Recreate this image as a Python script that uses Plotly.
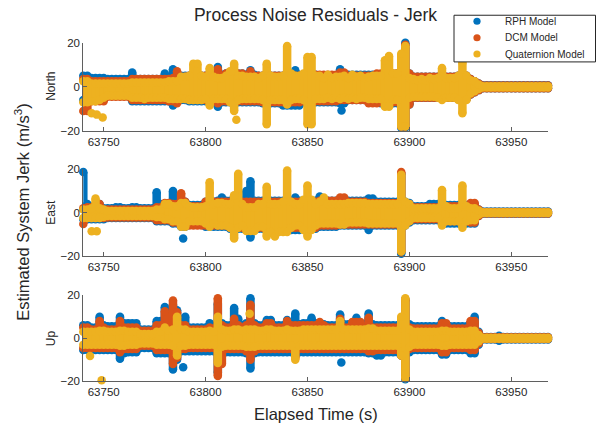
import plotly.graph_objects as go

# Residual envelopes sampled every 2 s from t = 63740 s to 63968 s (115 samples).
# For each axis and model: HI / LO are the extreme residual values in each sample.
T_START, T_STEP, N_SAMPLES = 63740, 2, 115
SAMPLE_T = [T_START + T_STEP * i for i in range(N_SAMPLES)]

# ---------------- North ----------------
NORTH_RPH_HI = [5, 5, 4, 4, 4, 4, 3.5, 3.5, 3.5, 3.5,
                3.5, 3.5, 6.5, 3.5, 3.5, 3.5, 3.5, 3.5, 3.5, 3.5,
                6, 4, 8, 5, 5, 5, 5, 5, 5, 5,
                5, 5, 5, 9, 5.5, 6, 6, 6, 6, 6,
                5.5, 7.5, 5.5, 5, 5, 5, 5, 5, 5, 5,
                5, 5, 7.5, 5, 5.5, 5.5, 5.5, 5.5, 5, 5,
                5, 5, 5, 8, 5.5, 5.5, 5.5, 5.5, 5.5, 5.5,
                5.5, 5.5, 5.5, 5.5, 5.5, 5.5, 5.5, 6, 6, 20,
                6, 4.5, 4.5, 4.5, 4.5, 4.5, 4.5, 4.5, 4.5, 4.5,
                4.5, 4.5, 5, 5, 5, 3.5, 2.5, 1.5, 0.7, 0.7,
                0.7, 0.7, 0.7, 0.7, 0.7, 0.7, 0.7, 0.7, 0.7, 0.7,
                0.7, 0.7, 0.7, 0.7, 0.7]
NORTH_RPH_LO = [-6, -6, -5.5, -5.5, -5.5, -5.5, -4, -4, -4, -4,
                -4, -4, -6.5, -6.5, -6.5, -6.5, -6.5, -6.5, -6.5, -6.5,
                -6.5, -6.5, -8.5, -6.5, -6, -6, -6.5, -6.5, -6.5, -6.5,
                -6.5, -6.5, -6.5, -9, -7, -7, -7, -7, -7, -7,
                -7, -7, -7, -7, -7.5, -7.5, -7.5, -7.5, -7.5, -8.5,
                -8.5, -8.5, -8.5, -8.5, -7, -7, -7, -7, -7, -7,
                -7, -7, -7, -7.5, -7.5, -6, -6, -6, -6, -6,
                -6.5, -6.5, -6.5, -7.5, -7.5, -7.5, -7.5, -7.5, -18.5, -18.5,
                -8, -5, -5, -5, -5, -5, -5, -5, -5, -5,
                -5, -5, -5.5, -5.5, -5.5, -3.5, -2.5, -1.5, -0.7, -0.7,
                -0.7, -0.7, -0.7, -0.7, -0.7, -0.7, -0.7, -0.7, -0.7, -0.7,
                -0.7, -0.7, -0.7, -0.7, -0.7]
NORTH_DCM_HI = [3.5, 3.5, 2.5, 2.5, 2.5, 2.5, 2.5, 2.5, 2.5, 2.5,
                2.5, 2.5, 3.5, 3.5, 3.5, 3.5, 3.5, 3.5, 3.5, 3.5,
                3.5, 3.5, 4, 7, 4.5, 4.5, 5, 5, 5, 5,
                5, 5, 5, 8, 5, 6, 6, 6, 6, 6,
                5, 7, 5, 5, 5, 5, 5, 5, 5, 5,
                5, 5, 5, 5, 5.5, 5.5, 5.5, 5.5, 5.5, 5.5,
                5.5, 5.5, 5.5, 6.5, 6.5, 5, 5, 5, 5, 5,
                5, 5, 6, 6, 6, 6, 6, 6, 6, 19,
                6, 4.5, 4.5, 4.5, 4.5, 4.5, 4.5, 4.5, 4.5, 4.5,
                4.5, 4.5, 5, 5, 5, 3.5, 2.5, 1.5, 0.6, 0.6,
                0.6, 0.6, 0.6, 0.6, 0.6, 0.6, 0.6, 0.6, 0.6, 0.6,
                0.6, 0.6, 0.6, 0.6, 0.6]
NORTH_DCM_LO = [-11, -11, -6.5, -6.5, -6.5, -6.5, -4.5, -4.5, -4.5, -4.5,
                -4.5, -4.5, -6, -6, -6, -6, -6, -6, -6, -6,
                -6, -6.5, -6.5, -7.5, -5.5, -5.5, -6, -6, -6, -6,
                -6, -6, -6, -7.5, -6.5, -6.5, -6.5, -6.5, -6.5, -6.5,
                -6.5, -6.5, -6.5, -6.5, -7, -7, -7, -7, -7, -7,
                -7, -7, -7, -7, -6.5, -6.5, -6.5, -6.5, -6.5, -6.5,
                -6.5, -6.5, -6.5, -6, -6, -6, -6, -6, -6, -6,
                -7.5, -7.5, -7.5, -7, -7, -7, -7, -7, -18, -18,
                -8, -5, -5, -5, -5, -5, -5, -5, -5, -5,
                -5, -5, -5.5, -5.5, -5.5, -3.5, -2.5, -1.5, -0.6, -0.6,
                -0.6, -0.6, -0.6, -0.6, -0.6, -0.6, -0.6, -0.6, -0.6, -0.6,
                -0.6, -0.6, -0.6, -0.6, -0.6]
NORTH_QUAT_HI = [2.5, 2.5, 1.5, 1.5, 1.5, 1.5, 1.5, 1.5, 1.5, 1.5,
                 1.5, 1.5, 2, 2, 2, 2, 2, 2, 2, 2,
                 2, 2.5, 2.5, 2.5, 4.5, 4.5, 5, 10.5, 10.5, 5,
                 4.5, 8.5, 4.5, 4, 4, 5, 7, 10.5, 5, 5,
                 4.5, 4.5, 4.5, 4, 5, 10.5, 5, 4.5, 4.5, 5,
                 18.5, 6, 5, 5, 6, 13.5, 13.5, 5, 5, 4,
                 5.5, 4, 4.5, 4.5, 5, 4, 5.5, 4.5, 5, 4,
                 4.5, 5, 5, 5, 12, 14, 6, 6, 15, 18.5,
                 4, 3.5, 3, 3.5, 3, 4, 3.5, 4, 8.5, 4,
                 4, 4, 5, 11, 5, 3, 2.5, 1, 0.3, 0.3,
                 0.3, 0.3, 0.3, 0.3, 0.3, 0.3, 0.3, 0.3, 0.3, 0.3,
                 0.3, 0.3, 0.3, 0.3, 0.3]
NORTH_QUAT_LO = [-7, -7, -6.5, -6.5, -6, -5, -4, -4, -4, -4,
                 -4, -4, -5, -5, -5, -5.5, -5, -5, -5, -5,
                 -5, -5.5, -5.5, -5.5, -5.5, -5.5, -6, -6, -6, -6,
                 -5.5, -8.5, -5.5, -5.5, -5.5, -5.5, -7, -11, -6, -5.5,
                 -5.5, -5.5, -5.5, -5.5, -6, -17, -6, -6, -6, -6,
                 -8, -6, -5.5, -5.5, -6, -17, -17, -5.5, -5.5, -5.5,
                 -5, -5.5, -5, -5.5, -5, -5.5, -5, -5.5, -5, -5,
                 -5.5, -5.5, -5.5, -5.5, -9, -9, -6, -6, -18, -18,
                 -5, -4.5, -4.5, -4.5, -4.5, -4.5, -4.5, -5, -6, -5,
                 -5, -5, -6, -12, -6, -3, -2, -1, -0.3, -0.3,
                 -0.3, -0.3, -0.3, -0.3, -0.3, -0.3, -0.3, -0.3, -0.3, -0.3,
                 -0.3, -0.3, -0.3, -0.3, -0.3]
# isolated samples away from the envelope (time, value)
NORTH_RPH_OUT_T, NORTH_RPH_OUT_V = [63866.7], [-10.7]
NORTH_DCM_OUT_T, NORTH_DCM_OUT_V = [], []
NORTH_QUAT_OUT_T = [63744.1, 63746.6, 63749.5, 63815.1]
NORTH_QUAT_OUT_V = [-12, -12.6, -13.9, -14.9]

# ---------------- East ----------------
EAST_RPH_HI = [18.8, 4, 2.5, 4, 4, 2, 2, 2, 2.5, 2.5,
               2, 2, 2.5, 2.5, 2, 2, 2, 2, 9.4, 4,
               4, 4, 10, 4.5, 5, 5, 3.5, 3.5, 3.5, 3.5,
               5, 5, 5, 5.5, 7, 5.5, 5.5, 5.5, 5.5, 5.5,
               10, 14.5, 5.5, 5.5, 5.5, 5.5, 5.5, 5.5, 5.5, 5.5,
               5.5, 5.5, 7, 5.5, 5.5, 5.5, 5.5, 5.5, 7.5, 5.5,
               5.5, 5.5, 5.5, 6, 6, 5.5, 5.5, 5.5, 5.5, 5.5,
               6.5, 6.5, 5, 5, 5, 5, 5, 5, 18, 5,
               4.5, 3, 3, 3, 3, 4, 4, 4, 3.5, 3.5,
               3.5, 3.5, 3.5, 3.5, 3.5, 4, 4, 1.5, 0.5, 0.5,
               0.5, 0.5, 0.5, 0.5, 0.5, 0.5, 0.5, 0.5, 0.5, 0.5,
               0.5, 0.5, 0.5, 0.5, 0.5]
EAST_RPH_LO = [-3, -3, -3, -3, -3, -3, -2.5, -2.5, -2.5, -2.5,
               -2.5, -2.5, -2.5, -2.5, -2.5, -2.5, -2.5, -2.5, -4, -4,
               -4, -4, -5, -5, -6.5, -6.5, -5.5, -5.5, -5.5, -5.5,
               -6.5, -6.5, -6.5, -6.5, -6.5, -6.5, -7.5, -7.5, -7.5, -7.5,
               -7.5, -11.5, -7.5, -7.5, -7.5, -7.5, -7.5, -7.5, -7.5, -7.5,
               -8, -8, -8, -8, -7.5, -7.5, -7.5, -7.5, -6.5, -6.5,
               -6.5, -6.5, -6.5, -6, -6, -6, -6, -6, -6, -6,
               -8, -6, -6, -6, -6, -6, -6, -6, -19, -6,
               -4.5, -3.5, -3.5, -3.5, -3.5, -3.5, -3.5, -3.5, -5, -5,
               -5, -5, -5, -5, -5, -5, -5, -1.5, -0.5, -0.5,
               -0.5, -0.5, -0.5, -0.5, -0.5, -0.5, -0.5, -0.5, -0.5, -0.5,
               -0.5, -0.5, -0.5, -0.5, -0.5]
EAST_DCM_HI = [2, 2.5, 2.5, 4, 4, 1.5, 1.5, 1.5, 1.5, 1.5,
               1.5, 1.5, 1.5, 1.5, 1.5, 1.5, 1.5, 1.5, 2.5, 2.5,
               4.5, 4.5, 4, 4, 9, 5, 3, 3, 3, 3,
               5, 5, 5, 5, 5, 5, 5, 5, 5, 5,
               5, 5, 5, 5, 5, 5, 5, 5, 5, 5,
               5, 5, 5, 5, 5, 5, 5, 5, 5.5, 5.5,
               5.5, 5.5, 5.5, 7, 7, 5, 5, 5, 5, 5,
               4.5, 4.5, 4.5, 4.5, 4.5, 4.5, 4.5, 4.5, 18.8, 4.5,
               4, 2.5, 2.5, 2.5, 2.5, 2.5, 2.5, 2.5, 3, 3,
               3, 3, 3, 3, 3, 4.5, 4.5, 1.5, 0.35, 0.35,
               0.35, 0.35, 0.35, 0.35, 0.35, 0.35, 0.35, 0.35, 0.35, 0.35,
               0.35, 0.35, 0.35, 0.35, 0.35]
EAST_DCM_LO = [-5.3, -2.5, -2.5, -2.5, -2.5, -2.5, -2.2, -2.2, -2.2, -2.2,
               -2.2, -2.2, -2.2, -2.2, -2.2, -2.2, -2.2, -2.2, -3.5, -3.5,
               -3.5, -3.5, -4.5, -4.5, -6, -6, -6, -6, -6, -6,
               -6, -6, -6, -6, -6, -6, -7, -7, -7, -7,
               -7, -7, -7, -7, -7, -7, -7, -7, -7, -7,
               -7, -7, -7, -7, -7, -7, -7, -7, -6, -6,
               -6, -6, -6, -5.5, -5.5, -5.5, -5.5, -5.5, -5.5, -5.5,
               -5.5, -5.5, -5.5, -5.5, -5.5, -5.5, -5.5, -5.5, -18, -5.5,
               -4, -3, -3, -3, -3, -3, -3, -3, -4, -4,
               -4, -4, -4, -4, -4, -4.5, -4.5, -1.5, -0.35, -0.35,
               -0.35, -0.35, -0.35, -0.35, -0.35, -0.35, -0.35, -0.35, -0.35, -0.35,
               -0.35, -0.35, -0.35, -0.35, -0.35]
EAST_QUAT_HI = [1.5, 1.5, 2, 6.5, 2, 1.5, 0.8, 0.8, 0.8, 0.8,
                0.8, 0.8, 0.8, 0.8, 0.8, 0.8, 0.8, 0.8, 1.5, 1.5,
                4, 4, 3, 3, 4.5, 4.5, 3, 2.5, 2.5, 2.5,
                3, 14, 4, 4.5, 4.5, 4, 4, 8, 18, 4,
                2.5, 2.5, 2.5, 4, 4, 12, 4, 4, 4, 5,
                19.5, 5, 4, 4, 6, 12.5, 6, 4, 5, 7,
                4, 4, 4, 4, 4, 4.5, 4.5, 4.5, 4.5, 4.5,
                4, 4, 4, 4, 4, 4, 4, 4, 17.5, 5,
                4, 2, 2, 2, 2, 2, 2, 2, 10.5, 3,
                2, 2, 2, 12.5, 3, 2, 2, 1, 0.2, 0.2,
                0.2, 0.2, 0.2, 0.2, 0.2, 0.2, 0.2, 0.2, 0.2, 0.2,
                0.2, 0.2, 0.2, 0.2, 0.2]
EAST_QUAT_LO = [-2.5, -2.5, -2.5, -2.5, -2.5, -2, -1.5, -1.5, -1.5, -1.5,
                -1.5, -1.5, -1.5, -1.5, -1.5, -1.5, -1.5, -1.5, -2, -2,
                -3, -3, -4, -4, -6.5, -6.5, -4, -4, -4, -4,
                -5, -6.5, -5, -6, -6, -6, -7, -12, -7, -6,
                -8.5, -8.5, -8.5, -6.5, -6.5, -11, -9, -11, -9, -9,
                -9, -7, -6, -6, -8, -11, -8, -6, -5, -5,
                -5, -5, -5, -5.5, -5.5, -4.5, -4.5, -4.5, -4.5, -4.5,
                -5, -5, -5, -5, -5, -5, -5, -5, -18, -6,
                -4, -2.5, -2.5, -2.5, -2.5, -2.5, -2.5, -2.5, -6, -4,
                -4, -4, -4, -7, -4, -3.5, -3.5, -1, -0.2, -0.2,
                -0.2, -0.2, -0.2, -0.2, -0.2, -0.2, -0.2, -0.2, -0.2, -0.2,
                -0.2, -0.2, -0.2, -0.2, -0.2]
EAST_RPH_OUT_T, EAST_RPH_OUT_V = [63789.0], [-11.9]
EAST_DCM_OUT_T, EAST_DCM_OUT_V = [], []
EAST_QUAT_OUT_T, EAST_QUAT_OUT_V = [63744.1, 63746.6], [-8.6, -8.6]

# ---------------- Up ----------------
UP_RPH_HI = [6, 6, 5, 5, 10, 6, 5.5, 5.5, 5.5, 10,
             7, 7, 7, 7, 4, 4, 4, 4, 8, 8,
             14.5, 7, 15.5, 13, 6.5, 10, 5, 5, 5, 5,
             5, 7, 5.5, 16, 7, 6, 6, 14, 9, 6,
             7, 18.5, 7, 6, 6, 8.5, 8.5, 6, 6, 6,
             8.5, 6.5, 11.5, 6.5, 7, 7, 9.5, 7, 7, 6.5,
             6, 6, 6, 11, 6.5, 6.5, 6.5, 9.5, 6.5, 6.5,
             11.5, 6.5, 6, 6, 6, 6, 6, 6, 8, 18,
             6.5, 5.5, 5.5, 5.5, 5.5, 5.5, 5.5, 5.5, 8, 6,
             5.5, 5.5, 5.5, 5.5, 5.5, 7, 10, 3, 0.6, 0.6,
             0.6, 0.6, 1.2, 0.6, 0.6, 0.6, 0.6, 0.6, 0.6, 0.6,
             0.6, 0.6, 0.6, 0.6, 0.6]
UP_RPH_LO = [-5.5, -5.5, -5.5, -5.5, -5.5, -5.5, -5.5, -5.5, -5.5, -9.5,
             -7, -6.5, -6.5, -6.5, -4.5, -4.5, -4.5, -4.5, -7, -7,
             -7, -7, -14.5, -10, -6, -6, -6, -6, -6, -6,
             -6, -6, -6, -16, -7, -6.5, -6.5, -6.5, -6.5, -6.5,
             -7, -14, -7, -6.5, -6.5, -6.5, -6.5, -6.5, -6.5, -6.5,
             -6.5, -6.5, -8, -6.5, -6.5, -6.5, -6.5, -6.5, -6.5, -6.5,
             -6.5, -6.5, -6.5, -6.5, -6.5, -6.5, -6.5, -6.5, -6.5, -6.5,
             -7, -7, -8, -8, -6.5, -6.5, -6.5, -6.5, -8, -19,
             -6.5, -5.5, -5.5, -5.5, -5.5, -5.5, -5.5, -5.5, -7.5, -7.5,
             -5.5, -5.5, -5.5, -5.5, -5.5, -7, -7, -3, -0.6, -0.6,
             -0.6, -0.6, -1.2, -0.6, -0.6, -0.6, -0.6, -0.6, -0.6, -0.6,
             -0.6, -0.6, -0.6, -0.6, -0.6]
UP_DCM_HI = [5, 5, 4, 4, 8, 5, 4, 4, 4, 8,
             5, 5, 5, 5, 3.5, 3.5, 3.5, 3.5, 6, 6,
             12.5, 5, 17.5, 12, 6, 6, 4, 4, 4, 4,
             4, 5, 4.5, 18.5, 6, 5, 5, 9, 6, 5,
             6, 15.5, 6, 5, 5, 7, 7, 5, 5, 5,
             8, 6, 6, 6, 6, 6, 6, 6, 7.5, 6,
             5, 5, 5, 9, 5, 5, 7.5, 7.5, 7.5, 5,
             9.5, 5, 5, 5, 5, 5, 5, 5, 8, 18,
             5, 4.5, 4.5, 4.5, 4.5, 4.5, 4.5, 4.5, 7, 7,
             4.5, 4.5, 4.5, 4.5, 4.5, 8, 8, 2.5, 0.4, 0.4,
             0.4, 0.4, 0.4, 0.4, 0.4, 0.4, 0.4, 0.4, 0.4, 0.4,
             0.4, 0.4, 0.4, 0.4, 0.4]
UP_DCM_LO = [-4.5, -4.5, -4.5, -4.5, -4.5, -4.5, -4.5, -4.5, -4.5, -6.5,
             -5, -5, -5, -5, -3.5, -3.5, -3.5, -3.5, -5.5, -5.5,
             -5.5, -5.5, -12, -9, -5, -5, -4.5, -4.5, -4.5, -4.5,
             -4.5, -4.5, -4.5, -17.5, -12, -5, -5, -5, -5, -5,
             -6, -10, -6, -5, -5, -5, -5, -5, -5, -5,
             -5, -5, -9, -5, -5, -5, -5, -5, -5, -5,
             -5, -5, -5, -5, -5, -5, -5, -5, -5, -5,
             -6, -6, -5.5, -5.5, -5.5, -5.5, -5.5, -5.5, -8, -18.5,
             -5, -4.5, -4.5, -4.5, -4.5, -4.5, -4.5, -4.5, -6.5, -6.5,
             -4.5, -4.5, -4.5, -4.5, -4.5, -5.5, -5.5, -2.5, -0.4, -0.4,
             -0.4, -0.4, -0.4, -0.4, -0.4, -0.4, -0.4, -0.4, -0.4, -0.4,
             -0.4, -0.4, -0.4, -0.4, -0.4]
UP_QUAT_HI = [3, 3, 3, 3, 3.5, 3.5, 3, 3, 3, 3.5,
              3.5, 3, 3, 3, 2, 2, 2, 2, 3, 3,
              5, 3.5, 4, 10, 4, 4, 3, 3, 3, 3,
              3, 3.5, 3, 10, 4, 3.5, 3.5, 4, 4, 3.5,
              4, 4, 4, 3.5, 3.5, 4, 4, 3.5, 3.5, 3.5,
              4, 3.5, 3.5, 3.5, 4, 4, 4, 4, 4, 4,
              4, 4, 4, 8, 4, 4, 4, 4, 4, 4,
              4.5, 4.5, 3.5, 3.5, 3.5, 3.5, 3.5, 3.5, 10, 18.5,
              4, 3, 3, 3, 3, 3, 3, 3, 3.5, 3.5,
              3, 3, 3, 3, 3, 3.5, 3.5, 1.5, 0.2, 0.2,
              0.2, 0.2, 0.2, 0.2, 0.2, 0.2, 0.2, 0.2, 0.2, 0.2,
              0.2, 0.2, 0.2, 0.2, 0.2]
UP_QUAT_LO = [-3, -3, -3, -3, -3, -3, -3, -3, -3, -3.5,
              -3.5, -3, -3, -3, -2.5, -2.5, -2.5, -2.5, -3, -3,
              -3, -3, -3.5, -8, -3.5, -3.5, -3, -3, -3, -3,
              -3, -3, -3, -11.5, -4, -3.5, -3.5, -3.5, -3.5, -3.5,
              -4, -4, -4, -3.5, -3.5, -3.5, -3.5, -3.5, -3.5, -3.5,
              -3.5, -3.5, -10, -3.5, -3.5, -3.5, -3.5, -3.5, -3.5, -3.5,
              -3.5, -3.5, -3.5, -3.5, -3.5, -3.5, -3.5, -3.5, -3.5, -3.5,
              -3.5, -3.5, -3.5, -3.5, -3.5, -3.5, -3.5, -3.5, -8, -18.5,
              -4, -3, -3, -3, -3, -3, -3, -3, -3.5, -3.5,
              -3, -3, -3, -3, -3, -3, -3, -1.5, -0.2, -0.2,
              -0.2, -0.2, -0.2, -0.2, -0.2, -0.2, -0.2, -0.2, -0.2, -0.2,
              -0.2, -0.2, -0.2, -0.2, -0.2]
UP_RPH_OUT_T, UP_RPH_OUT_V = [63789.0, 63866.6], [-13.5, -11.3]
UP_DCM_OUT_T, UP_DCM_OUT_V = [], []
UP_QUAT_OUT_T, UP_QUAT_OUT_V = [63743.3, 63749.0, 63821.6], [-8.3, -19.5, 11.3]

# ---------------- styling ----------------
MODELS = ["RPH Model", "DCM Model", "Quaternion Model"]
COLORS = ["#0072BD", "#D95319", "#EDB120"]
PANELS = ["North", "East", "Up"]
X_TICKS = [63750, 63800, 63850, 63900, 63950]
Y_TICKS = [-20, 0, 20]
X_RANGE = [63740, 63968]
Y_RANGE = [-20, 20]

W, H = 597, 435
DOT = 8.5
FONT = "Liberation Sans, Arial, Helvetica, sans-serif"
INK = "#262626"
AXIS = "#5f5f5f"

# plot areas in pixels: (top, bottom) of each panel, and left/right edges
PANEL_PX = [(37.7, 128.5), (168.0, 257.0), (297.3, 386.0)]
X_PX = (83.3, 548.0)

DATA = {
    "North": [(NORTH_RPH_LO, NORTH_RPH_HI, NORTH_RPH_OUT_T, NORTH_RPH_OUT_V),
              (NORTH_DCM_LO, NORTH_DCM_HI, NORTH_DCM_OUT_T, NORTH_DCM_OUT_V),
              (NORTH_QUAT_LO, NORTH_QUAT_HI, NORTH_QUAT_OUT_T, NORTH_QUAT_OUT_V)],
    "East": [(EAST_RPH_LO, EAST_RPH_HI, EAST_RPH_OUT_T, EAST_RPH_OUT_V),
             (EAST_DCM_LO, EAST_DCM_HI, EAST_DCM_OUT_T, EAST_DCM_OUT_V),
             (EAST_QUAT_LO, EAST_QUAT_HI, EAST_QUAT_OUT_T, EAST_QUAT_OUT_V)],
    "Up": [(UP_RPH_LO, UP_RPH_HI, UP_RPH_OUT_T, UP_RPH_OUT_V),
           (UP_DCM_LO, UP_DCM_HI, UP_DCM_OUT_T, UP_DCM_OUT_V),
           (UP_QUAT_LO, UP_QUAT_HI, UP_QUAT_OUT_T, UP_QUAT_OUT_V)],
}

for panel, series in DATA.items():
    for lo, hi, _, _ in series:
        if len(lo) != N_SAMPLES or len(hi) != N_SAMPLES:
            raise ValueError(f"{panel}: expected {N_SAMPLES} samples, got {len(lo)}/{len(hi)}")


def envelope_xy(lo, hi):
    """One vertical stroke per sample, from its lowest to its highest residual."""
    xs, ys = [], []
    for t, a, b in zip(SAMPLE_T, lo, hi):
        xs += [t, t, None]
        ys += [a, b, None]
    return xs, ys


fig = go.Figure()
for p, panel in enumerate(PANELS):
    ax = "" if p == 0 else str(p + 1)
    for m, (lo, hi, out_t, out_v) in enumerate(DATA[panel]):
        xs, ys = envelope_xy(lo, hi)
        fig.add_trace(go.Scatter(
            x=xs, y=ys, mode="lines+markers", xaxis="x" + ax, yaxis="y" + ax,
            name=MODELS[m], line=dict(color=COLORS[m], width=DOT),
            marker=dict(color=COLORS[m], size=DOT, line=dict(width=0)),
            showlegend=False, hoverinfo="skip", cliponaxis=False))
        if out_t:
            fig.add_trace(go.Scatter(
                x=out_t, y=out_v, mode="markers", xaxis="x" + ax, yaxis="y" + ax,
                name=MODELS[m], marker=dict(color=COLORS[m], size=DOT, line=dict(width=0)),
                showlegend=False, hoverinfo="skip", cliponaxis=False))

layout = dict(
    width=W, height=H, margin=dict(l=0, r=0, t=0, b=0),
    paper_bgcolor="white", plot_bgcolor="white",
    font=dict(family=FONT, color=INK, size=11.5),
    showlegend=False,
    title=dict(text="Process Noise Residuals - Jerk", x=315.5 / W, xanchor="center",
               y=1 - 14.5 / H, yanchor="middle", font=dict(size=17.5, color=INK)),
)

x_dom = [X_PX[0] / W, X_PX[1] / W]
for p, (top, bot) in enumerate(PANEL_PX):
    ax = "" if p == 0 else str(p + 1)
    layout["xaxis" + ax] = dict(
        domain=x_dom, range=X_RANGE, anchor="y" + ax,
        tickvals=X_TICKS, ticktext=[str(v) for v in X_TICKS],
        ticks="inside", ticklen=4, tickwidth=1, tickcolor=AXIS,
        showline=True, linecolor=AXIS, linewidth=1, showgrid=False, zeroline=False,
        tickfont=dict(size=11.5, color=INK), fixedrange=True)
    layout["yaxis" + ax] = dict(
        domain=[1 - bot / H, 1 - top / H], range=Y_RANGE, anchor="x" + ax,
        tickvals=Y_TICKS, ticks="inside", ticklen=4, tickwidth=1, tickcolor=AXIS,
        showline=True, linecolor=AXIS, linewidth=1, showgrid=False, zeroline=False,
        tickfont=dict(size=11.5, color=INK), fixedrange=True)

annotations = []
for p, (top, bot) in enumerate(PANEL_PX):
    annotations.append(dict(text=PANELS[p], x=51 / W, y=1 - (top + bot) / 2 / H,
                            xref="paper", yref="paper", showarrow=False, textangle=-90,
                            xanchor="center", yanchor="middle", font=dict(size=12, color=INK)))
annotations.append(dict(text="Estimated System Jerk (m/s<sup>3</sup>)", x=22 / W, y=1 - 212.5 / H,
                        xref="paper", yref="paper", showarrow=False, textangle=-90,
                        xanchor="center", yanchor="middle", font=dict(size=16.5, color=INK)))
annotations.append(dict(text="Elapsed Time (s)", x=315.5 / W, y=1 - 420 / H,
                        xref="paper", yref="paper", showarrow=False,
                        xanchor="center", yanchor="middle", font=dict(size=16.5, color=INK)))

# legend box in the top-right corner
LEG_BOX = (454, 9.5, 595.5, 57.5)  # left, top, right, bottom (px)
LEG_ROWS = [15.8, 32.6, 49.4]
LEG_DOT_X, LEG_TEXT_X, LEG_R = 477, 503, 3.6
shapes = [dict(type="rect", xref="paper", yref="paper",
               x0=LEG_BOX[0] / W, x1=LEG_BOX[2] / W, y0=1 - LEG_BOX[3] / H, y1=1 - LEG_BOX[1] / H,
               line=dict(color=INK, width=1), fillcolor="white", layer="above")]
for m, row in enumerate(LEG_ROWS):
    shapes.append(dict(type="circle", xref="paper", yref="paper",
                       x0=(LEG_DOT_X - LEG_R) / W, x1=(LEG_DOT_X + LEG_R) / W,
                       y0=1 - (row + LEG_R) / H, y1=1 - (row - LEG_R) / H,
                       line=dict(width=0), fillcolor=COLORS[m], layer="above"))
    annotations.append(dict(text=MODELS[m], x=LEG_TEXT_X / W, y=1 - row / H,
                            xref="paper", yref="paper", showarrow=False,
                            xanchor="left", yanchor="middle", font=dict(size=10, color=INK)))
layout["annotations"] = annotations
layout["shapes"] = shapes

fig.update_layout(**layout)
fig.write_html("out.html")
